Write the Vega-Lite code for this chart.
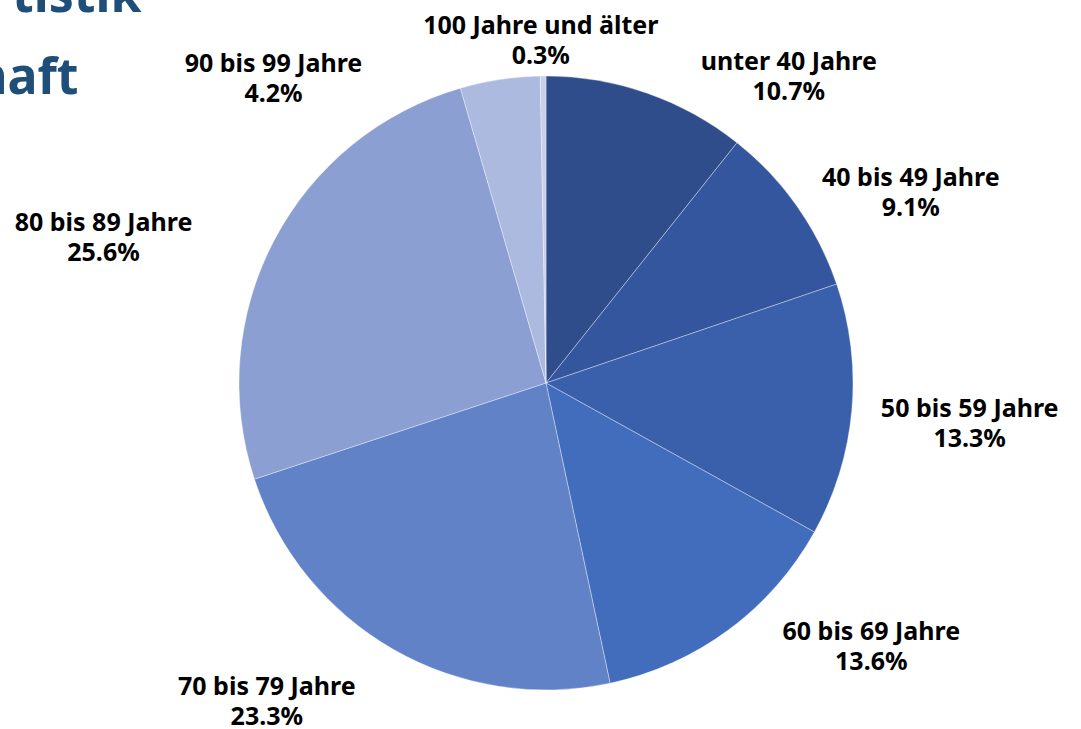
{
  "$schema": "https://vega.github.io/schema/vega-lite/v6.json",
  "autosize": "none",
  "width": 1070,
  "height": 692,
  "padding": {"left": 11, "top": 37, "right": 0, "bottom": 0},
  "background": "white",
  "title": {
    "text": "\u2800tistik",
    "subtitle": "haft",
    "anchor": "start",
    "frame": "group",
    "orient": "top",
    "font": "Noto Sans",
    "fontSize": 50,
    "fontWeight": "bold",
    "color": "#1f4e79",
    "subtitleFont": "Noto Sans",
    "subtitleFontSize": 50,
    "subtitleFontWeight": "bold",
    "subtitleColor": "#1f4e79",
    "subtitlePadding": 32,
    "dx": -36,
    "offset": -101
  },
  "config": {"view": {"stroke": null}, "text": {"align": "center", "baseline": "middle", "lineBreak": "\n", "lineHeight": 30, "font": "Noto Sans", "fontWeight": "bold", "fontSize": 25, "color": "#000000"}},
  "data": {
    "values": [
      {"idx": 1, "cat": "unter 40 Jahre", "share": 10.7, "label": "unter 40 Jahre\n10.7%"},
      {"idx": 2, "cat": "40 bis 49 Jahre", "share": 9.1, "label": "40 bis 49 Jahre\n9.1%"},
      {"idx": 3, "cat": "50 bis 59 Jahre", "share": 13.3, "label": "50 bis 59 Jahre\n13.3%"},
      {"idx": 4, "cat": "60 bis 69 Jahre", "share": 13.6, "label": "60 bis 69 Jahre\n13.6%"},
      {"idx": 5, "cat": "70 bis 79 Jahre", "share": 23.3, "label": "70 bis 79 Jahre\n23.3%"},
      {"idx": 6, "cat": "80 bis 89 Jahre", "share": 25.6, "label": "80 bis 89 Jahre\n25.6%"},
      {"idx": 7, "cat": "90 bis 99 Jahre", "share": 4.2, "label": "90 bis 99 Jahre\n4.2%"},
      {"idx": 8, "cat": "100 Jahre und älter", "share": 0.3, "label": "100 Jahre und älter\n0.3%"}
    ]
  },
  "encoding": {
    "theta": {"field": "share", "type": "quantitative", "stack": true},
    "order": {"field": "idx", "type": "quantitative"}
  },
  "layer": [
    {
      "mark": {"type": "arc", "outerRadius": 307, "stroke": "#ffffff", "strokeWidth": 1, "strokeOpacity": 0.35},
      "encoding": {
        "color": {
          "field": "cat",
          "type": "nominal",
          "sort": null,
          "legend": null,
          "scale": {
            "domain": ["unter 40 Jahre", "40 bis 49 Jahre", "50 bis 59 Jahre", "60 bis 69 Jahre", "70 bis 79 Jahre", "80 bis 89 Jahre", "90 bis 99 Jahre", "100 Jahre und älter"],
            "range": ["#2f4d8a", "#33569e", "#3a60ab", "#426dbd", "#6282c8", "#8c9fd3", "#adbadf", "#c8d0ea"]
          }
        }
      }
    },
    {
      "mark": {"type": "text", "radius": 330, "dx": 134, "dy": -9},
      "encoding": {"text": {"condition": {"test": "datum.cat === 'unter 40 Jahre'", "field": "label"}, "value": ""}}
    },
    {
      "mark": {"type": "text", "radius": 330, "dx": 95, "dy": -15},
      "encoding": {"text": {"condition": {"test": "datum.cat === '40 bis 49 Jahre'", "field": "label"}, "value": ""}}
    },
    {
      "mark": {"type": "text", "radius": 330, "dx": 95, "dy": -3},
      "encoding": {"text": {"condition": {"test": "datum.cat === '50 bis 59 Jahre'", "field": "label"}, "value": ""}}
    },
    {
      "mark": {"type": "text", "radius": 330, "dx": 129, "dy": -16},
      "encoding": {"text": {"condition": {"test": "datum.cat === '60 bis 69 Jahre'", "field": "label"}, "value": ""}}
    },
    {
      "mark": {"type": "text", "radius": 360, "dx": -100, "dy": -8},
      "encoding": {"text": {"condition": {"test": "datum.cat === '70 bis 79 Jahre'", "field": "label"}, "value": ""}}
    },
    {
      "mark": {"type": "text", "radius": 360, "dx": -124, "dy": 8},
      "encoding": {"text": {"condition": {"test": "datum.cat === '80 bis 89 Jahre'", "field": "label"}, "value": ""}}
    },
    {
      "mark": {"type": "text", "radius": 330, "dx": -223, "dy": 7},
      "encoding": {"text": {"condition": {"test": "datum.cat === '90 bis 99 Jahre'", "field": "label"}, "value": ""}}
    },
    {
      "mark": {"type": "text", "radius": 345, "dx": -2, "dy": -12},
      "encoding": {"text": {"condition": {"test": "datum.cat === '100 Jahre und älter'", "field": "label"}, "value": ""}}
    }
  ]
}
